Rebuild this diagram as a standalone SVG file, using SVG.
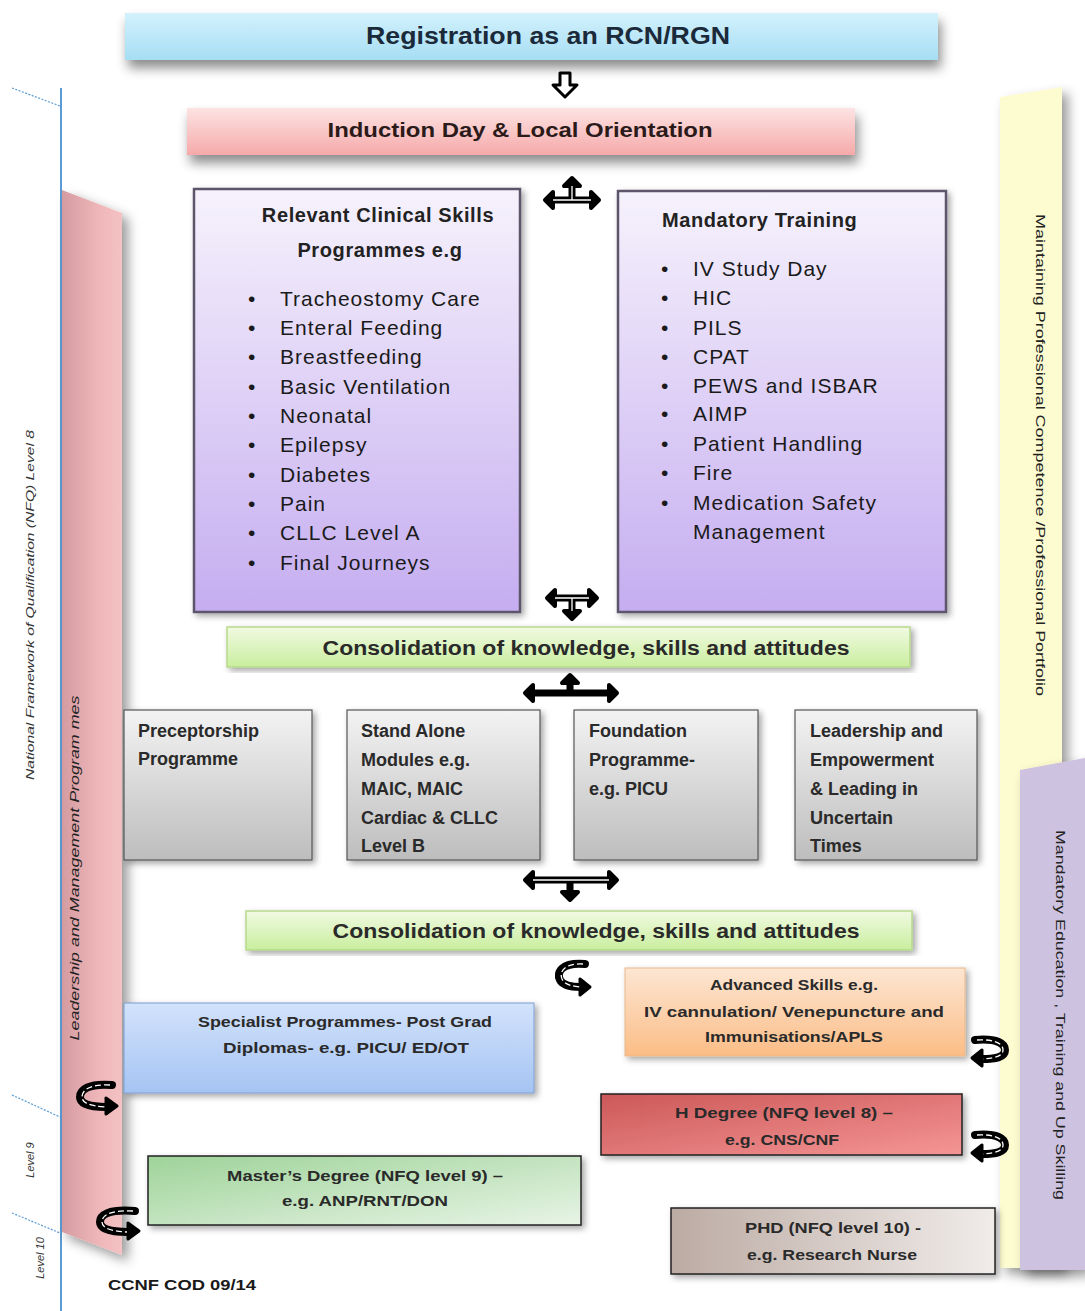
<svg xmlns="http://www.w3.org/2000/svg" width="1085" height="1311" viewBox="0 0 1085 1311">
<defs>
<linearGradient id="gBlue" x1="0" y1="0" x2="0" y2="1"><stop offset="0" stop-color="#d3f1fc"/><stop offset="1" stop-color="#a6def4"/></linearGradient>
<linearGradient id="gPink" x1="0" y1="0" x2="0" y2="1"><stop offset="0" stop-color="#fde3e3"/><stop offset="1" stop-color="#f6a9a9"/></linearGradient>
<linearGradient id="gLav" x1="0" y1="0" x2="0" y2="1"><stop offset="0" stop-color="#f6f2fc"/><stop offset="1" stop-color="#c5adf0"/></linearGradient>
<linearGradient id="gGreen" x1="0" y1="0" x2="0" y2="1"><stop offset="0" stop-color="#f1fae2"/><stop offset="1" stop-color="#c9ee9e"/></linearGradient>
<linearGradient id="gGray" x1="0" y1="0" x2="0" y2="1"><stop offset="0" stop-color="#f3f3f3"/><stop offset="1" stop-color="#bdbdbd"/></linearGradient>
<linearGradient id="gOrange" x1="0" y1="0" x2="0" y2="1"><stop offset="0" stop-color="#fde6d3"/><stop offset="1" stop-color="#fbbd86"/></linearGradient>
<linearGradient id="gSpec" x1="0" y1="0" x2="0" y2="1"><stop offset="0" stop-color="#d2e2fb"/><stop offset="1" stop-color="#a5c4f3"/></linearGradient>
<linearGradient id="gRed" x1="0" y1="0" x2="1" y2="1"><stop offset="0" stop-color="#cc5858"/><stop offset="1" stop-color="#f59595"/></linearGradient>
<linearGradient id="gMaster" x1="0" y1="0" x2="1" y2="1"><stop offset="0" stop-color="#9ed399"/><stop offset="1" stop-color="#e8f4e6"/></linearGradient>
<linearGradient id="gPhd" x1="0" y1="0" x2="1" y2="0"><stop offset="0" stop-color="#bcaba3"/><stop offset="1" stop-color="#f0ecea"/></linearGradient>
<linearGradient id="gLeftPink" x1="0" y1="0" x2="1" y2="0"><stop offset="0" stop-color="#d49ca1"/><stop offset="0.6" stop-color="#efb6b9"/><stop offset="1" stop-color="#f4c2c4"/></linearGradient>
<filter id="sh" x="-10%" y="-30%" width="125%" height="190%"><feDropShadow dx="3" dy="8" stdDeviation="6" flood-color="#000" flood-opacity="0.45"/></filter>
<filter id="sh2" x="-10%" y="-10%" width="125%" height="125%"><feDropShadow dx="3" dy="3" stdDeviation="3" flood-color="#000" flood-opacity="0.35"/></filter>
<filter id="sh3" x="-30%" y="-5%" width="170%" height="110%"><feDropShadow dx="6" dy="6" stdDeviation="6" flood-color="#000" flood-opacity="0.4"/></filter>
</defs>
<style>
text{font-family:"Liberation Sans",Arial,sans-serif;fill:#1a1a1a}
.h1{font-size:23px;font-weight:bold;fill:#1b2a3a}
.h2{font-size:20px;font-weight:bold;fill:#2a1a1a}
.li{font-size:21px;fill:#222;letter-spacing:1px}
.ttl{font-size:20px;font-weight:bold;fill:#222;letter-spacing:0.6px}
.con{font-size:20px;font-weight:bold;fill:#2a2a2a}
.gb{font-size:18px;font-weight:bold;fill:#2a2a2a}
.bx{font-size:15px;font-weight:bold;fill:#2a2a2a}
.side{font-size:13px;fill:#222}
.sidei{font-size:11px;font-style:italic;fill:#333}
.arw{fill:none;stroke:#000;stroke-linecap:round;stroke-linejoin:round}
.arwi{fill:none;stroke:#fff;stroke-width:1.3}
</style>

<!-- side bands -->
<g id="left-column">
<rect x="10" y="88" width="52" height="1223" fill="#fff"/>
<line x1="61" y1="88" x2="61" y2="1311" stroke="#5b9bd5" stroke-width="2"/>
<line x1="12" y1="88" x2="60" y2="106" stroke="#5b9bd5" stroke-width="1.2" stroke-dasharray="2,1.5"/>
<line x1="12" y1="1095" x2="60" y2="1117" stroke="#5b9bd5" stroke-width="1.2" stroke-dasharray="2,1.5"/>
<line x1="12" y1="1213" x2="60" y2="1233" stroke="#5b9bd5" stroke-width="1.2" stroke-dasharray="2,1.5"/>
<text class="sidei" transform="translate(34,605) rotate(-90)" text-anchor="middle" textLength="350" lengthAdjust="spacingAndGlyphs">National Framework of Qualification (NFQ) Level 8</text>
<text class="sidei" transform="translate(34,1160) rotate(-90)" text-anchor="middle">Level 9</text>
<text class="sidei" transform="translate(44,1258) rotate(-90)" text-anchor="middle">Level 10</text>
</g>
<g id="leadership-band">
<polygon points="62,190 122,213 122,1255 62,1232" fill="url(#gLeftPink)" filter="url(#sh3)"/>
<text class="side" font-style="italic" transform="translate(79,868) rotate(-90)" text-anchor="middle" textLength="345" lengthAdjust="spacingAndGlyphs">Leadership and Management Program mes</text>
</g>
<g id="portfolio-band">
<polygon points="1000,97 1062,87 1062,1268 1000,1268" fill="#fdfcd0" filter="url(#sh3)"/>
<text class="side" transform="translate(1036,455) rotate(90)" text-anchor="middle" textLength="482" lengthAdjust="spacingAndGlyphs">Maintaining Professional Competence /Professional Portfolio</text>
</g>
<g id="mandatory-band">
<polygon points="1020,770 1085,758 1085,1270 1020,1270" fill="#cdc2df" filter="url(#sh3)"/>
<text class="side" transform="translate(1056,1015) rotate(90)" text-anchor="middle" textLength="370" lengthAdjust="spacingAndGlyphs">Mandatory Education , Training and Up Skilling</text>
</g>

<!-- nodes -->
<g id="registration">
<rect x="125" y="13" width="813" height="47" fill="url(#gBlue)" filter="url(#sh)"/>
<text class="h1" x="548" y="44" text-anchor="middle" textLength="364" lengthAdjust="spacingAndGlyphs">Registration as an RCN/RGN</text>
</g>
<g id="induction">
<rect x="187" y="108" width="668" height="47" fill="url(#gPink)" filter="url(#sh)"/>
<text class="h2" x="520" y="137" text-anchor="middle" textLength="385" lengthAdjust="spacingAndGlyphs">Induction Day &amp; Local Orientation</text>
</g>
<g id="clinical-skills">
<rect x="194" y="189" width="326" height="423" fill="url(#gLav)" stroke="#5d556b" stroke-width="2.5" filter="url(#sh2)"/>
<text class="ttl" x="378" y="222" text-anchor="middle">Relevant Clinical Skills</text>
<text class="ttl" x="380" y="257" text-anchor="middle">Programmes e.g</text>
<g class="li">
<text x="248" y="306">•</text><text x="280" y="306">Tracheostomy Care</text>
<text x="248" y="335">•</text><text x="280" y="335">Enteral Feeding</text>
<text x="248" y="364">•</text><text x="280" y="364">Breastfeeding</text>
<text x="248" y="394">•</text><text x="280" y="394">Basic Ventilation</text>
<text x="248" y="423">•</text><text x="280" y="423">Neonatal</text>
<text x="248" y="452">•</text><text x="280" y="452">Epilepsy</text>
<text x="248" y="482">•</text><text x="280" y="482">Diabetes</text>
<text x="248" y="511">•</text><text x="280" y="511">Pain</text>
<text x="248" y="540">•</text><text x="280" y="540">CLLC Level A</text>
<text x="248" y="570">•</text><text x="280" y="570">Final Journeys</text>
</g>
</g>
<g id="mandatory-training">
<rect x="618" y="191" width="328" height="421" fill="url(#gLav)" stroke="#5d556b" stroke-width="2.5" filter="url(#sh2)"/>
<text class="ttl" x="662" y="227" letter-spacing="1.2">Mandatory Training</text>
<g class="li">
<text x="661" y="276">•</text><text x="693" y="276">IV Study Day</text>
<text x="661" y="305">•</text><text x="693" y="305">HIC</text>
<text x="661" y="335">•</text><text x="693" y="335">PILS</text>
<text x="661" y="364">•</text><text x="693" y="364">CPAT</text>
<text x="661" y="393">•</text><text x="693" y="393">PEWS and ISBAR</text>
<text x="661" y="421">•</text><text x="693" y="421">AIMP</text>
<text x="661" y="451">•</text><text x="693" y="451">Patient Handling</text>
<text x="661" y="480">•</text><text x="693" y="480">Fire</text>
<text x="661" y="510">•</text><text x="693" y="510">Medication Safety</text>
<text x="693" y="539">Management</text>
</g>
</g>
<g id="consolidation-1">
<rect x="227" y="627" width="683" height="40" fill="url(#gGreen)" stroke="#b7d98c" stroke-width="1.5" filter="url(#sh2)"/>
<text class="con" x="586" y="655" text-anchor="middle" textLength="527" lengthAdjust="spacingAndGlyphs">Consolidation of knowledge, skills and attitudes</text>
</g>
<g id="preceptorship">
<rect x="124" y="710" width="188" height="150" fill="url(#gGray)" stroke="#555" stroke-width="1.2" filter="url(#sh2)"/>
<text class="gb" x="138" y="737">Preceptorship</text>
<text class="gb" x="138" y="765">Programme</text>
</g>
<g id="stand-alone">
<rect x="347" y="710" width="193" height="150" fill="url(#gGray)" stroke="#555" stroke-width="1.2" filter="url(#sh2)"/>
<text class="gb" x="361" y="737">Stand Alone</text>
<text class="gb" x="361" y="766">Modules e.g.</text>
<text class="gb" x="361" y="795">MAIC, MAIC</text>
<text class="gb" x="361" y="824">Cardiac &amp; CLLC</text>
<text class="gb" x="361" y="852">Level B</text>
</g>
<g id="foundation">
<rect x="574" y="710" width="184" height="150" fill="url(#gGray)" stroke="#555" stroke-width="1.2" filter="url(#sh2)"/>
<text class="gb" x="589" y="737">Foundation</text>
<text class="gb" x="589" y="766">Programme-</text>
<text class="gb" x="589" y="795">e.g. PICU</text>
</g>
<g id="leadership-empowerment">
<rect x="795" y="710" width="182" height="150" fill="url(#gGray)" stroke="#555" stroke-width="1.2" filter="url(#sh2)"/>
<text class="gb" x="810" y="737">Leadership and</text>
<text class="gb" x="810" y="766">Empowerment</text>
<text class="gb" x="810" y="795">&amp; Leading in</text>
<text class="gb" x="810" y="824">Uncertain</text>
<text class="gb" x="810" y="852">Times</text>
</g>
<g id="consolidation-2">
<rect x="246" y="911" width="666" height="39" fill="url(#gGreen)" stroke="#b7d98c" stroke-width="1.5" filter="url(#sh2)"/>
<text class="con" x="596" y="938" text-anchor="middle" textLength="527" lengthAdjust="spacingAndGlyphs">Consolidation of knowledge, skills and attitudes</text>
</g>
<g id="advanced-skills">
<rect x="625" y="968" width="340" height="88" fill="url(#gOrange)" stroke="#e8b88a" stroke-width="1" filter="url(#sh2)"/>
<text class="bx" x="794" y="990" text-anchor="middle" textLength="168" lengthAdjust="spacingAndGlyphs">Advanced Skills e.g.</text>
<text class="bx" x="794" y="1017" text-anchor="middle" textLength="300" lengthAdjust="spacingAndGlyphs">IV cannulation/ Venepuncture and</text>
<text class="bx" x="794" y="1042" text-anchor="middle" textLength="178" lengthAdjust="spacingAndGlyphs">Immunisations/APLS</text>
</g>
<g id="specialist">
<rect x="124" y="1003" width="410" height="90" fill="url(#gSpec)" stroke="#7d9ed0" stroke-width="1" filter="url(#sh2)"/>
<text class="bx" x="345" y="1027" text-anchor="middle" textLength="294" lengthAdjust="spacingAndGlyphs">Specialist Programmes- Post Grad</text>
<text class="bx" x="346" y="1053" text-anchor="middle" textLength="246" lengthAdjust="spacingAndGlyphs">Diplomas-  e.g. PICU/ ED/OT</text>
</g>
<g id="h-degree">
<rect x="601" y="1094" width="361" height="61" fill="url(#gRed)" stroke="#222" stroke-width="1.5" filter="url(#sh2)"/>
<text class="bx" x="784" y="1118" text-anchor="middle" textLength="218" lengthAdjust="spacingAndGlyphs">H  Degree (NFQ level 8) –</text>
<text class="bx" x="782" y="1145" text-anchor="middle" textLength="114" lengthAdjust="spacingAndGlyphs">e.g. CNS/CNF</text>
</g>
<g id="masters">
<rect x="148" y="1156" width="433" height="69" fill="url(#gMaster)" stroke="#222" stroke-width="1.5" filter="url(#sh2)"/>
<text class="bx" x="365" y="1181" text-anchor="middle" textLength="276" lengthAdjust="spacingAndGlyphs">Master’s Degree (NFQ level 9) –</text>
<text class="bx" x="365" y="1206" text-anchor="middle" textLength="166" lengthAdjust="spacingAndGlyphs">e.g. ANP/RNT/DON</text>
</g>
<g id="phd">
<rect x="671" y="1208" width="324" height="66" fill="url(#gPhd)" stroke="#222" stroke-width="1.5" filter="url(#sh2)"/>
<text class="bx" x="833" y="1233" text-anchor="middle" textLength="176" lengthAdjust="spacingAndGlyphs">PHD (NFQ level 10) -</text>
<text class="bx" x="832" y="1260" text-anchor="middle" textLength="170" lengthAdjust="spacingAndGlyphs">e.g. Research Nurse</text>
</g>
<g id="footer">
<text x="108" y="1290" font-size="15" font-weight="bold" fill="#222" textLength="148" lengthAdjust="spacingAndGlyphs">CCNF COD 09/14</text>
</g>

<!-- connectors -->
<g id="connectors">
<polygon points="560,73 570,73 570,85 577,85 565,97 553,85 560,85" fill="#fff" stroke="#000" stroke-width="3" stroke-linejoin="round"/>
<g>
<path class="arw" stroke-width="7" d="M550,200 H594 M572,200 V184"/>
<polygon points="545,200 553,192 553,208" fill="#000" stroke="#000" stroke-width="4" stroke-linejoin="round"/>
<polygon points="599,200 591,192 591,208" fill="#000" stroke="#000" stroke-width="4" stroke-linejoin="round"/>
<polygon points="572,178 564,186 580,186" fill="#000" stroke="#000" stroke-width="4" stroke-linejoin="round"/>
<path class="arwi" d="M553,200 H591 M572,200 V186"/>
</g>
<g>
<path class="arw" stroke-width="7" d="M552,598 H592 M572,598 V612"/>
<polygon points="547,598 555,590 555,606" fill="#000" stroke="#000" stroke-width="4" stroke-linejoin="round"/>
<polygon points="597,598 589,590 589,606" fill="#000" stroke="#000" stroke-width="4" stroke-linejoin="round"/>
<polygon points="572,619 564,611 580,611" fill="#000" stroke="#000" stroke-width="4" stroke-linejoin="round"/>
<path class="arwi" d="M555,598 H589 M572,598 V611"/>
</g>
<g>
<path class="arw" stroke-width="7" d="M530,693 H612 M570,693 V682"/>
<polygon points="525,693 533,685 533,701" fill="#000" stroke="#000" stroke-width="4" stroke-linejoin="round"/>
<polygon points="617,693 609,685 609,701" fill="#000" stroke="#000" stroke-width="4" stroke-linejoin="round"/>
<polygon points="570,675 562,683 578,683" fill="#000" stroke="#000" stroke-width="4" stroke-linejoin="round"/>
</g>
<g>
<path class="arw" stroke-width="7" d="M530,880 H612 M570,880 V892"/>
<polygon points="525,880 533,872 533,888" fill="#000" stroke="#000" stroke-width="4" stroke-linejoin="round"/>
<polygon points="617,880 609,872 609,888" fill="#000" stroke="#000" stroke-width="4" stroke-linejoin="round"/>
<polygon points="570,900 562,892 578,892" fill="#000" stroke="#000" stroke-width="4" stroke-linejoin="round"/>
<path class="arwi" d="M533,880 H609"/>
</g>
<g>
<path class="arw" stroke-width="8" d="M585,964 C562,962 556,972 560,980 C563,986 572,987 581,987"/>
<polygon points="590,987 580,979 580,995" fill="#000" stroke="#000" stroke-width="3" stroke-linejoin="round"/>
<path class="arwi" d="M583,964 C564,963 559,972 562,979 C565,985 572,986 580,987" stroke-dasharray="6,3"/>
</g>
<g>
<path class="arw" stroke-width="8" d="M112,1085 C88,1083 80,1090 80,1097 C80,1104 90,1107 106,1107"/>
<polygon points="117,1106 106,1098 106,1114" fill="#000" stroke="#000" stroke-width="3" stroke-linejoin="round"/>
<path class="arwi" d="M110,1085 C90,1084 82,1090 82,1097 C82,1103 90,1106 105,1107" stroke-dasharray="6,3"/>
</g>
<g>
<path class="arw" stroke-width="8" d="M135,1211 C108,1209 100,1215 100,1222 C100,1229 110,1232 128,1232"/>
<polygon points="139,1231 128,1223 128,1239" fill="#000" stroke="#000" stroke-width="3" stroke-linejoin="round"/>
<path class="arwi" d="M133,1211 C110,1210 102,1215 102,1222 C102,1228 110,1231 127,1232" stroke-dasharray="6,3"/>
</g>
<g>
<path class="arw" stroke-width="8" d="M975,1040 C998,1038 1005,1044 1005,1050 C1005,1057 996,1059 982,1059"/>
<polygon points="972,1058 982,1050 982,1066" fill="#000" stroke="#000" stroke-width="3" stroke-linejoin="round"/>
<path class="arwi" d="M977,1040 C996,1039 1003,1044 1003,1050 C1003,1056 995,1058 983,1059" stroke-dasharray="6,3"/>
</g>
<g>
<path class="arw" stroke-width="8" d="M975,1135 C998,1133 1005,1139 1005,1145 C1005,1152 996,1154 982,1154"/>
<polygon points="972,1153 982,1145 982,1161" fill="#000" stroke="#000" stroke-width="3" stroke-linejoin="round"/>
<path class="arwi" d="M977,1135 C996,1134 1003,1139 1003,1145 C1003,1151 995,1153 983,1154" stroke-dasharray="6,3"/>
</g>
</g>
</svg>
